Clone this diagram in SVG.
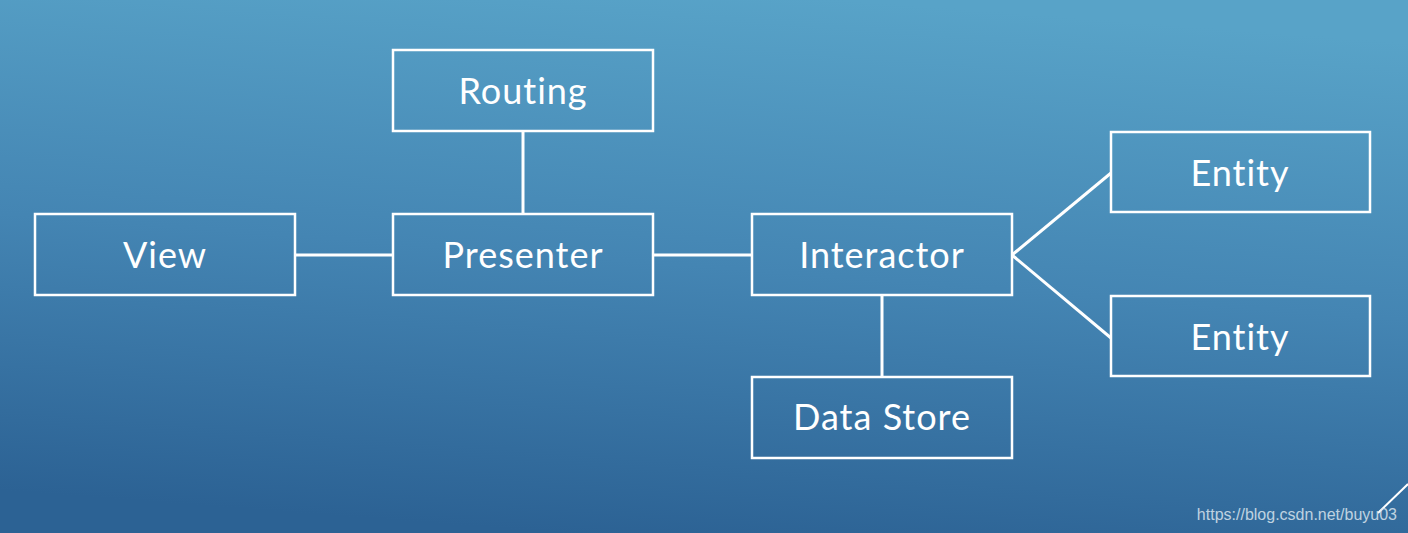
<svg xmlns="http://www.w3.org/2000/svg" width="1408" height="533" viewBox="0 0 1408 533">
<defs>
<linearGradient id="bg" x1="0.6" y1="0" x2="0.4" y2="1">
<stop offset="0" stop-color="#58a3c8"/>
<stop offset="0.5" stop-color="#4485b3"/>
<stop offset="1" stop-color="#2c6294"/>
</linearGradient>
<style>
.box{fill:none;stroke:#ffffff;stroke-width:2.5}
.lbl{fill:#ffffff;font-family:"Lato","Liberation Sans",sans-serif;font-size:36px;letter-spacing:1px;font-variant-ligatures:none;text-anchor:middle;dominant-baseline:central}
.con{stroke:#ffffff;stroke-width:3;fill:none}
.wm{fill:#d8e4ee;font-family:"Liberation Sans",Arial,sans-serif;font-size:16px;opacity:0.85}
</style>
</defs>
<rect x="0" y="0" width="1408" height="533" fill="url(#bg)"/>
<g id="connectors">
<line class="con" x1="523" y1="131" x2="523" y2="214"/>
<line class="con" x1="295" y1="255" x2="393" y2="255"/>
<line class="con" x1="653" y1="255" x2="752" y2="255"/>
<line class="con" x1="882" y1="295" x2="882" y2="378"/>
<line class="con" x1="1012" y1="255" x2="1111" y2="173"/>
<line class="con" x1="1012" y1="255" x2="1111" y2="338"/>
</g>
<g id="routing"><rect class="box" x="393" y="50" width="260" height="81"/><text class="lbl" x="523" y="90">Routing</text></g>
<g id="view"><rect class="box" x="35" y="214" width="260" height="81"/><text class="lbl" x="165" y="254">View</text></g>
<g id="presenter"><rect class="box" x="393" y="214" width="260" height="81"/><text class="lbl" x="523" y="254">Presenter</text></g>
<g id="interactor"><rect class="box" x="752" y="214" width="260" height="81"/><text class="lbl" x="882" y="254">Interactor</text></g>
<g id="datastore"><rect class="box" x="752" y="377" width="260" height="81"/><text class="lbl" x="882" y="416">Data Store</text></g>
<g id="entity1"><rect class="box" x="1111" y="132" width="259" height="80"/><text class="lbl" x="1240" y="172">Entity</text></g>
<g id="entity2"><rect class="box" x="1111" y="296" width="259" height="80"/><text class="lbl" x="1240" y="336">Entity</text></g>
<line x1="1378" y1="513" x2="1408" y2="484" stroke="#ffffff" stroke-width="2"/>
<text class="wm" x="1397" y="520" text-anchor="end">https://blog.csdn.net/buyu03</text>
</svg>
